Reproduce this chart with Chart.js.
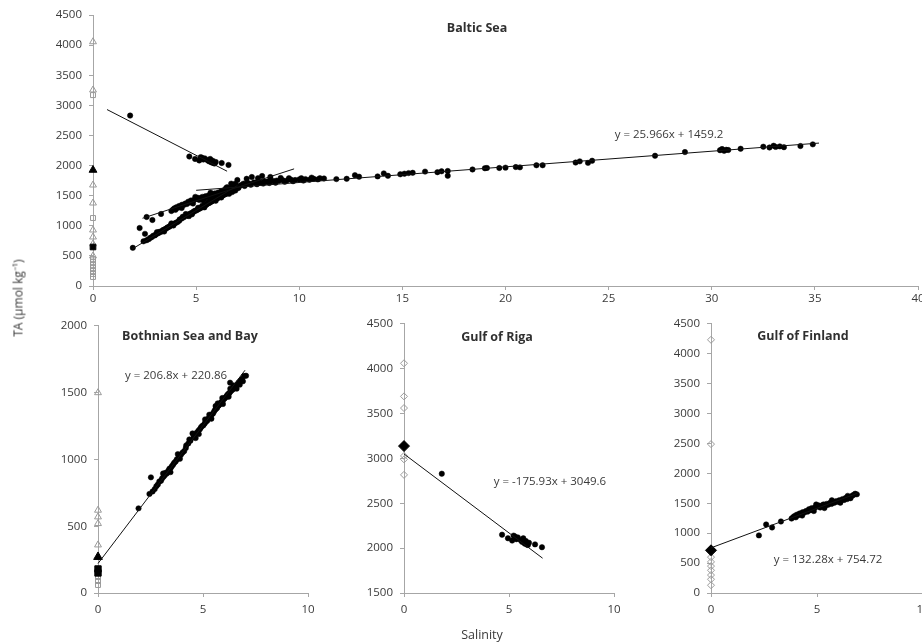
<!DOCTYPE html>
<html>
<head>
<meta charset="utf-8">
<script src="https://cdn.jsdelivr.net/npm/chart.js@4/dist/chart.umd.min.js"></script>
<style>
    html, body { margin: 0; padding: 0; background: #fff; overflow: hidden; }
    #wrap { position: relative; width: 922px; height: 644px; overflow: hidden; font-family: "Open Sans", sans-serif; color: #3a3a3a; }
    canvas { position: absolute; }
    .lbl { position: absolute; transform: translate(-50%, -50%); white-space: nowrap; font-size: 11.5px; }
    .ttl { font-weight: bold; font-size: 12.5px; color: #303030; }
</style>
</head>
<body>
<div id="wrap">
    <canvas id="baltic" width="940" height="320" style="left:0;top:0"></canvas>
    <canvas id="bothnian" width="300" height="332" style="left:30px;top:312px"></canvas>
    <canvas id="riga" width="310" height="334" style="left:330px;top:310px"></canvas>
    <canvas id="finland" width="310" height="334" style="left:640px;top:310px"></canvas>

    <div class="lbl ttl" style="left:477px;top:27px">Baltic Sea</div>
    <div class="lbl" style="left:669px;top:133px">y = 25.966x + 1459.2</div>
    <div class="lbl ttl" style="left:190px;top:335px">Bothnian Sea and Bay</div>
    <div class="lbl" style="left:176px;top:374px">y = 206.8x + 220.86</div>
    <div class="lbl ttl" style="left:497px;top:336px">Gulf of Riga</div>
    <div class="lbl" style="left:550px;top:480px">y = -175.93x + 3049.6</div>
    <div class="lbl ttl" style="left:803px;top:335px">Gulf of Finland</div>
    <div class="lbl" style="left:828px;top:558px">y = 132.28x + 754.72</div>
    <div class="lbl" style="left:482px;top:634px;font-size:12.5px">Salinity</div>
    <div class="lbl" style="left:18px;top:298px;transform:translate(-50%,-50%) rotate(-90deg);font-size:12px">TA (µmol kg⁻¹)</div>
</div>
<script>
// salinity, TA (µmol/kg) pairs
const bothnianPoints = [
    [1.93, 634], [2.52, 866], [2.45, 742], [2.6, 760], [2.7, 778], [2.78, 800], [2.85, 812],
    [2.92, 835], [3.0, 840], [3.05, 858], [3.12, 870], [3.18, 882], [3.22, 900], [3.28, 895],
    [3.35, 915], [3.4, 930], [3.46, 936], [3.52, 950], [3.58, 962], [3.63, 975], [3.7, 985],
    [3.75, 1000], [3.82, 1010], [3.88, 1030], [3.9, 1005], [3.95, 1036], [4.02, 1050],
    [4.1, 1062], [4.18, 1085], [4.3, 1120], [4.35, 1150], [4.4, 1140], [4.55, 1165],
    [4.62, 1186], [4.7, 1200], [4.78, 1215], [4.85, 1226], [4.9, 1240], [4.96, 1250],
    [5.02, 1256], [5.08, 1270], [5.14, 1282], [5.2, 1290], [5.25, 1305], [5.3, 1312],
    [5.36, 1325], [5.42, 1336], [5.48, 1345], [5.53, 1360], [5.58, 1372], [5.6, 1400],
    [5.62, 1380], [5.67, 1386], [5.72, 1400], [5.76, 1406], [5.8, 1415], [5.85, 1426],
    [5.9, 1432], [5.92, 1460], [5.95, 1445], [6.0, 1452], [6.05, 1460], [6.1, 1470],
    [6.15, 1482], [6.2, 1490], [6.22, 1470], [6.25, 1496], [6.29, 1575], [6.3, 1506],
    [6.35, 1516], [6.4, 1522], [6.45, 1530], [6.5, 1540], [6.55, 1546], [6.6, 1556],
    [6.65, 1566], [6.7, 1576], [6.78, 1590], [6.85, 1602], [7.05, 1627],
    [3.1, 895], [3.45, 905], [3.8, 1040], [4.2, 1105], [4.5, 1195], [4.8, 1190],
    [5.1, 1300], [5.4, 1305], [5.7, 1420], [5.95, 1415], [6.3, 1530], [6.6, 1530],
    [6.75, 1560], [6.9, 1585], [6.95, 1625], [6.45, 1555], [5.3, 1335], [4.65, 1160],
];

const rigaPoints = [
    [1.8, 2830], [4.67, 2150], [4.95, 2110], [5.15, 2085], [5.22, 2140], [5.28, 2130],
    [5.35, 2100], [5.42, 2120], [5.55, 2090], [5.62, 2070], [5.68, 2110], [5.72, 2060],
    [5.76, 2050], [5.8, 2080], [5.85, 2040], [5.9, 2035], [5.95, 2060], [6.24, 2042],
    [6.57, 2010],
];

const finlandPoints = [
    [2.26, 963], [2.6, 1146], [2.88, 1096], [3.3, 1196], [3.8, 1245], [3.88, 1270],
    [3.95, 1290], [4.0, 1265], [4.05, 1310], [4.12, 1300], [4.18, 1330], [4.25, 1320],
    [4.32, 1350], [4.4, 1345], [4.48, 1370], [4.55, 1360], [4.62, 1400], [4.7, 1385],
    [4.75, 1420], [4.82, 1400], [4.9, 1430], [4.96, 1480], [5.02, 1445], [5.08, 1465],
    [5.15, 1430], [5.22, 1460], [5.3, 1480], [5.38, 1455], [5.45, 1490], [5.52, 1475],
    [5.6, 1505], [5.68, 1490], [5.75, 1520], [5.82, 1510], [5.9, 1535], [5.98, 1525],
    [6.05, 1550], [6.12, 1540], [6.2, 1570], [6.28, 1555], [6.35, 1590], [6.42, 1570],
    [6.5, 1600], [6.58, 1585], [6.65, 1625], [6.72, 1640], [6.8, 1660], [6.88, 1650],
    [4.3, 1295], [4.85, 1370], [5.35, 1420], [5.7, 1550], [6.1, 1510], [6.45, 1625],
];

const properPoints = [
    [6.9, 1700], [7.0, 1760], [7.1, 1660], [7.2, 1680], [7.3, 1700], [7.4, 1690],
    [7.5, 1710], [7.6, 1700], [7.7, 1810], [7.8, 1720], [7.9, 1710], [8.0, 1730],
    [8.1, 1720], [8.2, 1826], [8.3, 1735], [8.4, 1725], [8.5, 1740], [8.6, 1810],
    [8.7, 1745], [8.8, 1735], [8.9, 1750], [9.0, 1745], [9.2, 1755], [9.4, 1750],
    [9.6, 1765], [9.8, 1760], [10.0, 1770], [10.1, 1790], [10.3, 1775], [10.5, 1765],
    [10.7, 1780], [10.9, 1770], [11.2, 1785], [11.8, 1775], [12.3, 1780], [12.7, 1840],
    [12.9, 1815], [13.8, 1820], [14.1, 1870], [14.3, 1830], [14.9, 1855], [15.1, 1865],
    [15.3, 1875], [15.5, 1880], [16.1, 1900], [16.7, 1890], [16.9, 1905], [17.2, 1910],
    [17.2, 1830], [18.4, 1935], [19.0, 1955], [19.1, 1960], [19.7, 1960], [20.0, 1965],
    [20.5, 1975], [20.7, 1970], [21.5, 2005], [21.8, 2005], [23.4, 2050], [23.6, 2070],
    [24.0, 2045], [24.2, 2080], [27.25, 2163], [28.7, 2224], [30.4, 2255], [30.5, 2274],
    [30.6, 2245], [30.7, 2262], [30.8, 2258], [31.4, 2279], [32.5, 2313], [32.8, 2300],
    [33.0, 2329], [33.1, 2310], [33.3, 2318], [33.5, 2305], [34.3, 2324], [34.9, 2352],
    [6.5, 1640], [6.7, 1700], [7.05, 1640], [7.35, 1660], [7.65, 1680], [7.95, 1690],
    [8.25, 1700], [8.55, 1710], [8.85, 1715], [9.3, 1730], [9.7, 1740], [10.2, 1750],
    [7.45, 1780], [8.0, 1790], [9.1, 1795], [9.5, 1790], [10.6, 1800], [11.0, 1790],
];

// river end-members (salinity 0)
const balticRiverTriangles = [4056, 3255, 1677, 1378, 930, 814, 700, 500];
const balticRiverSquares = [3170, 1129, 450, 400, 350, 300, 250, 200, 150];
const balticRiverMeanTriangle = [1926];
const balticRiverMeanSquare = [648];
const bothnianRiverTriangles = [1500, 620, 570, 520, 360];
const bothnianRiverMeanTriangle = [270];
const bothnianRiverMeanSquares = [180, 150];
const bothnianRiverSquares = [120, 90, 60];
const rigaRivers = [4061, 3692, 3562, 3028, 2990, 2817];
const rigaRiverMean = [3138];
const finlandRivers = [4234, 2490, 600, 520, 450, 380, 300, 230, 130];
const finlandRiverMean = [714];

// regression line end points
const balticFit = [[5.0, 1589], [35.2, 2373]];
const balticRigaFit = [[0.68, 2930], [6.5, 1906]];
const balticBothnianFit = [[1.9, 614], [7.0, 1668]];
const balticFinlandFit = [[2.4, 1125], [9.75, 1945]];
const bothnianFit = [[0, 221], [7.0, 1668]];
const rigaFit = [[0, 3050], [6.6, 1888]];
const finlandFit = [[0, 755], [6.9, 1667]];

const axisColor = "#a6a6a6";
const tickFont = { family: "Open Sans", size: 11.5 };

function xy(pairs) {
    return pairs.map((p) => ({ x: p[0], y: p[1] }));
}

function atZero(values) {
    return values.map((v) => ({ x: 0, y: v }));
}

function dots(pairs) {
    return {
        data: xy(pairs), pointStyle: "circle", pointRadius: 2.7,
        backgroundColor: "#000", borderColor: "#000", borderWidth: 0.5, clip: false,
    };
}

function marker(values, style, filled, radius) {
    return {
        data: atZero(values), pointStyle: style, pointRadius: radius,
        backgroundColor: filled ? "#000" : "rgba(255,255,255,0)",
        borderColor: filled ? "#000" : "#9a9a9a", borderWidth: 1, clip: false,
    };
}

function fitLine(pairs) {
    return {
        data: xy(pairs), showLine: true, pointRadius: 0,
        borderColor: "#111", borderWidth: 1, clip: false,
    };
}

function makeChart(id, box, axes, datasets) {
    return new Chart(document.getElementById(id), {
        type: "scatter",
        data: { datasets: datasets },
        options: {
            responsive: false,
            animation: false,
            events: [],
            layout: { padding: { left: 0, top: box.top, right: box.right, bottom: 0 } },
            plugins: { legend: { display: false }, tooltip: { enabled: false } },
            scales: {
                x: {
                    type: "linear", min: axes.xMin, max: axes.xMax,
                    ticks: { stepSize: axes.xStep, color: "#3a3a3a", font: tickFont, padding: box.xPad, maxRotation: 0, callback: (v) => String(v) },
                    grid: { drawOnChartArea: false, color: axisColor, tickLength: 4 },
                    border: { color: axisColor },
                    afterFit: (s) => { s.height = box.xHeight; },
                },
                y: {
                    type: "linear", min: axes.yMin, max: axes.yMax,
                    ticks: { stepSize: axes.yStep, color: "#3a3a3a", font: tickFont, padding: 7, callback: (v) => String(v) },
                    grid: { drawOnChartArea: false, color: axisColor, tickLength: 4 },
                    border: { color: axisColor },
                    afterFit: (s) => { s.width = box.yWidth; },
                },
            },
        },
    });
}

makeChart("baltic",
    { top: 15, right: 22, xHeight: 34, yWidth: 93, xPad: 2 },
    { xMin: 0, xMax: 40, xStep: 5, yMin: 0, yMax: 4500, yStep: 500 },
    [
        fitLine(balticFit), fitLine(balticRigaFit), fitLine(balticBothnianFit), fitLine(balticFinlandFit),
        marker(balticRiverMeanTriangle, "triangle", true, 4.5),
        marker(balticRiverMeanSquare, "rect", true, 4),
        marker(balticRiverTriangles, "triangle", false, 4),
        marker(balticRiverSquares, "rect", false, 3.5),
        dots(bothnianPoints), dots(finlandPoints), dots(rigaPoints), dots(properPoints),
    ]);

makeChart("bothnian",
    { top: 13, right: 22, xHeight: 51, yWidth: 68, xPad: 6 },
    { xMin: 0, xMax: 10, xStep: 5, yMin: 0, yMax: 2000, yStep: 500 },
    [
        fitLine(bothnianFit),
        marker(bothnianRiverMeanTriangle, "triangle", true, 5),
        marker(bothnianRiverMeanSquares, "rect", true, 4.5),
        marker(bothnianRiverTriangles, "triangle", false, 4),
        marker(bothnianRiverSquares, "rect", false, 3.5),
        dots(bothnianPoints),
    ]);

makeChart("riga",
    { top: 12, right: 26, xHeight: 51, yWidth: 74, xPad: 6 },
    { xMin: 0, xMax: 10, xStep: 5, yMin: 1500, yMax: 4500, yStep: 500 },
    [
        fitLine(rigaFit),
        marker(rigaRiverMean, "rectRot", true, 5.5),
        marker(rigaRivers, "rectRot", false, 3.5),
        dots(rigaPoints),
    ]);

makeChart("finland",
    { top: 12, right: 27, xHeight: 51, yWidth: 71, xPad: 6 },
    { xMin: 0, xMax: 10, xStep: 5, yMin: 0, yMax: 4500, yStep: 500 },
    [
        fitLine(finlandFit),
        marker(finlandRiverMean, "rectRot", true, 5.5),
        marker(finlandRivers, "rectRot", false, 3.5),
        dots(finlandPoints),
    ]);
</script>
</body>
</html>
